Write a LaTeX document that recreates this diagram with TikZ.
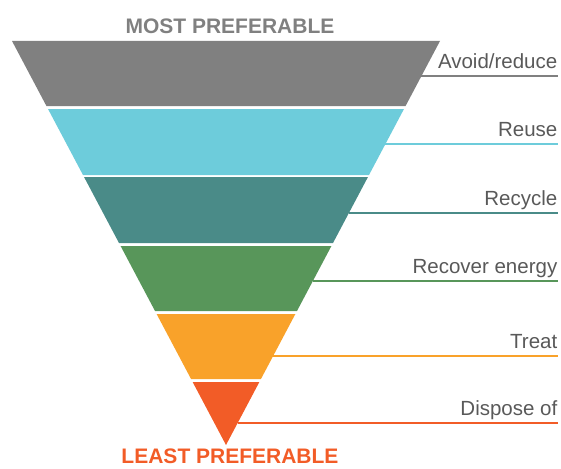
\documentclass[tikz,border=0pt]{standalone}
\usepackage{fontspec}
\setmainfont{Liberation Sans}
\usepackage{tikz}

\definecolor{avoidgray}{HTML}{808080}
\definecolor{reusecyan}{HTML}{6DCCDB}
\definecolor{recycleteal}{HTML}{4A8B88}
\definecolor{energygreen}{HTML}{58965A}
\definecolor{treatorange}{HTML}{F9A22A}
\definecolor{disposered}{HTML}{F25C27}
\definecolor{labelgray}{HTML}{595959}

\tikzset{
    labeltext/.style={anchor=base east, inner sep=0pt, text=labelgray, font=\fontsize{20.5}{22}\selectfont},
    titletext/.style={anchor=base, inner sep=0pt, font=\bfseries\fontsize{21}{24}\selectfont},
    leader/.style={line width=1.8pt},
}

\begin{document}
\begin{tikzpicture}[x=1pt,y=-1pt]
                \useasboundingbox (0,0) rectangle (561,468);
                \node[titletext, text=avoidgray] (most) at (230,33.5) {MOST PREFERABLE};
                \foreach \t/\b/\l/\c/\n/\txt in {41/106/76/avoidgray/avoid/{Avoid/reduce},
                    109/175/144/reusecyan/reuse/{Reuse},
                    177/243/213/recycleteal/recycle/{Recycle},
                    246/311/281/energygreen/energy/{Recover energy},
                    314/379/356/treatorange/treat/{Treat},
                    382/445/423/disposered/dispose/{Dispose of}}{
                    \pgfmathsetmacro{\wt}{0.5297*(445-\t)}
                    \pgfmathsetmacro{\wb}{0.5297*(445-\b)}
                    \pgfmathsetmacro{\wl}{0.5297*(445-\l)}
                    \fill[\c] (226-\wt,\t) -- (226+\wt,\t) -- (226+\wb,\b) -- (226-\wb,\b) -- cycle;
                    \coordinate (\n edge) at (226+\wl,\l);
                    \node[labeltext] (\n) at (557.5,\l-7.5) {\txt};
                    \draw[leader,\c] (\n edge) -- (\n edge -| \n.east);
                }
                \node[titletext, text=disposered] (least) at (230,463.5) {LEAST PREFERABLE};
            \end{tikzpicture}
\end{document}
